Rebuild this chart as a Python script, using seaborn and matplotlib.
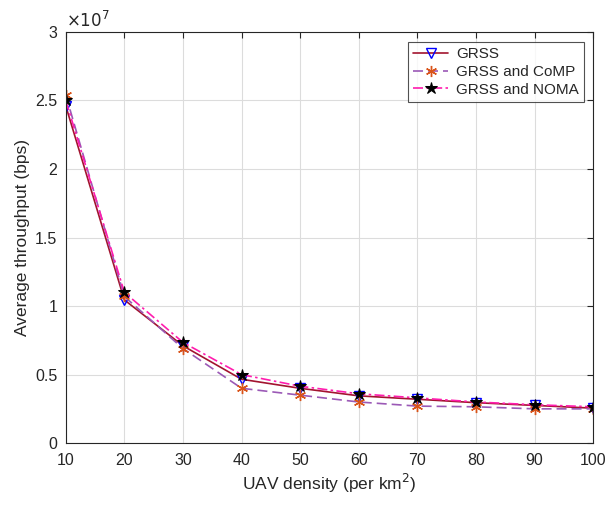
import numpy as np
import pandas as pd
import matplotlib
matplotlib.use("Agg")
import matplotlib.pyplot as plt
import seaborn as sns
from matplotlib.ticker import FuncFormatter, MultipleLocator

density = [10, 20, 30, 40, 50, 60, 70, 80, 90, 100]
grss = [2.46e7, 1.045e7, 0.71e7, 0.466e7, 0.40e7, 0.345e7, 0.32e7, 0.295e7, 0.275e7, 0.255e7]
grss_comp = [2.54e7, 1.07e7, 0.69e7, 0.40e7, 0.35e7, 0.30e7, 0.27e7, 0.265e7, 0.25e7, 0.25e7]
grss_noma = [2.50e7, 1.10e7, 0.735e7, 0.50e7, 0.415e7, 0.36e7, 0.33e7, 0.30e7, 0.28e7, 0.265e7]

sns.set_style("white")
plt.rcParams['font.family'] = ['Liberation Sans', 'DejaVu Sans']

fig = plt.figure(figsize=(6.09, 5.07), dpi=100)
ax = fig.add_axes([0.108, 0.126, 0.866, 0.811])

series = [
    ("GRSS", grss, dict(color="#A2142F", linestyle="-", marker="v", markersize=7,
                        markerfacecolor="none", markeredgecolor="#0000FF", markeredgewidth=1.0)),
    ("GRSS and CoMP", grss_comp, dict(color="#9B59B6", linestyle=(0, (6, 3)), marker=(6, 2, 0), markersize=8,
                                      markerfacecolor="#D95319", markeredgecolor="#D95319", markeredgewidth=1.0)),
    ("GRSS and NOMA", grss_noma, dict(color="#FF1CAE", linestyle=(0, (6, 2, 1.5, 2)), marker="*", markersize=9,
                                      markerfacecolor="black", markeredgecolor="black")),
]
for name, vals, kw in series:
    df = pd.DataFrame({"x": density, "y": vals})
    sns.lineplot(data=df, x="x", y="y", ax=ax, label=name, linewidth=1.2, **kw)

ax.set_xlim(10, 100)
ax.set_ylim(0, 3e7)
ax.xaxis.set_major_locator(MultipleLocator(10))
ax.yaxis.set_major_locator(MultipleLocator(0.5e7))
ax.yaxis.set_major_formatter(FuncFormatter(lambda v, p: f"{v/1e7:g}"))
ax.grid(True, color="#dcdcdc", linewidth=0.8)
ax.tick_params(direction="in", labelsize=11.5, length=4, top=True, right=True, color="#262626")
ax.tick_params(axis="x", pad=7)
ax.tick_params(axis="y", pad=6)
for s in ax.spines.values():
    s.set_color("#262626")
    s.set_linewidth(0.8)
ax.set_xlabel("UAV density (per km$^2$)", fontsize=12.5, labelpad=3)
ax.set_ylabel("Average throughput (bps)", fontsize=12.5)
ax.text(0.0, 1.005, r"$\times10^{7}$", transform=ax.transAxes, fontsize=12, ha="left", va="bottom")

leg = ax.legend(loc="upper right", fontsize=11, frameon=True, fancybox=False,
                edgecolor="#262626", handlelength=2.3, handletextpad=0.5, borderpad=0.35,
                labelspacing=0.25, borderaxespad=0,
                bbox_to_anchor=(0.983, 0.976))
leg.get_frame().set_linewidth(0.8)

fig.savefig("out.png", dpi=100)
